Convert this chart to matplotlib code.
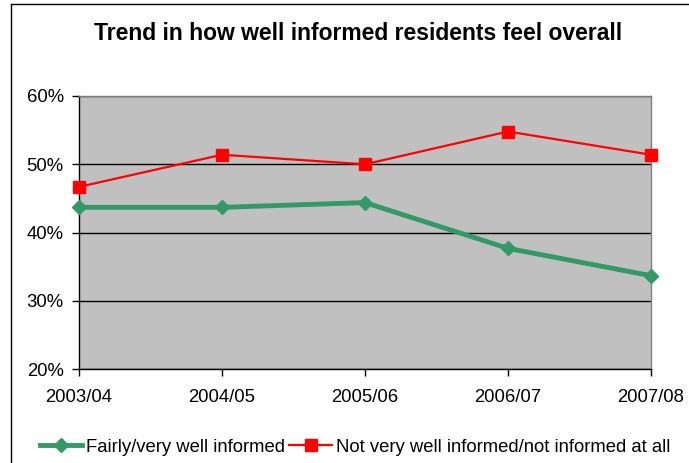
import matplotlib.pyplot as plt
from matplotlib.lines import Line2D
from matplotlib.ticker import FuncFormatter

plt.rcParams['font.family'] = ['Liberation Sans', 'DejaVu Sans']

years = ['2003/04', '2004/05', '2005/06', '2006/07', '2007/08']
well_informed = [43.7, 43.7, 44.4, 37.7, 33.7]
not_informed = [46.7, 51.4, 50.0, 54.8, 51.4]

fig = plt.figure(figsize=(6.89, 4.63), dpi=100)
ax = fig.add_axes([0.1147, 0.2024, 0.8301, 0.5903])
ax.set_facecolor('#C0C0C0')

x = range(len(years))
ax.plot(x, well_informed, color='#339966', lw=3.5, marker='D', ms=7.5,
        label='Fairly/very well informed', zorder=3, clip_on=False)
ax.plot(x, not_informed, color='#FF0000', lw=1.6, marker='s', ms=8,
        label='Not very well informed/not informed at all', zorder=4, clip_on=False)

ax.set_xlim(0, len(years) - 1)
ax.set_ylim(20, 60)
ax.set_xticks(list(x))
ax.set_xticklabels(years)
ax.set_yticks([20, 30, 40, 50, 60])
ax.yaxis.set_major_formatter(FuncFormatter(lambda v, p: '%d%%' % v))
ax.tick_params(labelsize=13.3, colors='black', length=5, width=1)
ax.tick_params(axis='y', pad=6)
ax.tick_params(axis='x', pad=9)
ax.yaxis.grid(True, color='black', lw=1)
ax.set_axisbelow(True)

for side in ('left', 'bottom'):
    ax.spines[side].set_color('black')
    ax.spines[side].set_linewidth(1)
for side in ('top', 'right'):
    ax.spines[side].set_color('#808080')
    ax.spines[side].set_linewidth(1)

fig.text(0.519, 0.927, 'Trend in how well informed residents feel overall',
         ha='center', va='center', fontsize=16.5, fontweight='bold')

fig.legend(loc='center', bbox_to_anchor=(0.515, 0.034), ncol=2, frameon=False,
           fontsize=13.3, handlelength=2.3, handletextpad=0.2, columnspacing=0.25)

# chart frame
fig.add_artist(Line2D([11 / 689, 1], [1 - 4 / 463] * 2, color='black', lw=1,
                      transform=fig.transFigure))
fig.add_artist(Line2D([11 / 689] * 2, [0, 1 - 4 / 463], color='black', lw=1,
                      transform=fig.transFigure))

fig.savefig('out.png', dpi=100)
